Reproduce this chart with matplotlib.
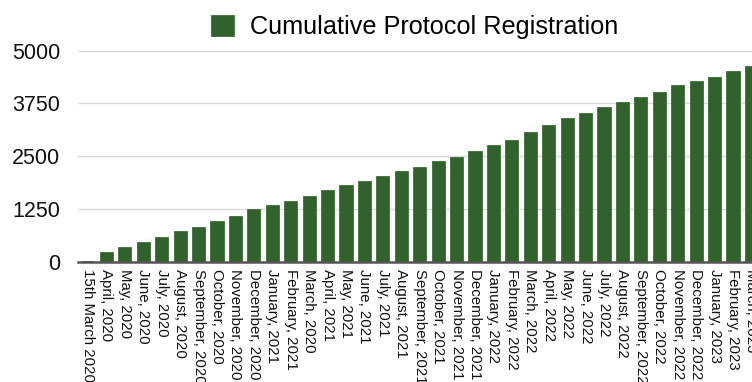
import numpy as np
import matplotlib.pyplot as plt

plt.rcParams['font.family'] = ['Liberation Sans', 'DejaVu Sans']

months = ['15th March 2020', 'April, 2020', 'May, 2020', 'June, 2020', 'July, 2020',
          'August, 2020', 'September, 2020', 'October, 2020', 'November, 2020',
          'December, 2020', 'January, 2021', 'February, 2021', 'March, 2020',
          'April, 2021', 'May, 2021', 'June, 2021', 'July, 2021', 'August, 2021',
          'September, 2021', 'October, 2021', 'November, 2021', 'December, 2021',
          'January, 2022', 'February, 2022', 'March, 2022', 'April, 2022',
          'May, 2022', 'June, 2022', 'July, 2022', 'August, 2022',
          'September, 2022', 'October, 2022', 'November, 2022', 'December, 2022',
          'January, 2023', 'February, 2023', 'March, 2023']
registrations = [20, 222, 347, 457, 590, 724, 826, 953, 1085, 1243,
                 1353, 1431, 1557, 1698, 1816, 1920, 2028, 2146, 2250, 2375,
                 2486, 2627, 2768, 2886, 3066, 3231, 3405, 3523, 3655, 3774,
                 3900, 4033, 4184, 4292, 4387, 4514, 4632]
yticks = [0, 1250, 2500, 3750, 5000]

fig = plt.figure(figsize=(7.52, 3.82), dpi=100)
ax = fig.add_axes([78 / 752, 1 - 261.7 / 382, 1 - 78 / 752, 211 / 382])

x = np.arange(len(months))
ax.bar(x, registrations, width=0.71, color='#31622b', edgecolor='#3d6e36',
       linewidth=0.6, label='Cumulative Protocol Registration', zorder=3)

ax.set_xlim(-0.54, 36.03)
ax.set_ylim(0, 5000)
ax.set_yticks(yticks)
ax.set_yticklabels([str(v) for v in yticks], fontsize=15.5, color='#111111')
ax.set_xticks(x)
ax.set_xticklabels(months, rotation=270, fontsize=10.8, color='#111111',
                   va='top', ha='center')
ax.tick_params(axis='y', length=0, pad=13)
ax.tick_params(axis='x', length=0, pad=5)

ax.grid(axis='y', color='#d9d9d9', linewidth=1.0, zorder=0)
for side in ['top', 'right', 'left']:
    ax.spines[side].set_visible(False)
ax.spines['bottom'].set_color('#555555')
ax.spines['bottom'].set_linewidth(1.8)
ax.spines['bottom'].set_zorder(4)

ax.legend(loc='center', bbox_to_anchor=(0.5, 1.112), frameon=False,
          fontsize=18.2, handlelength=0.91, handleheight=0.91,
          handletextpad=0.63, borderpad=0, borderaxespad=0)

fig.savefig('out.png', dpi=100)
